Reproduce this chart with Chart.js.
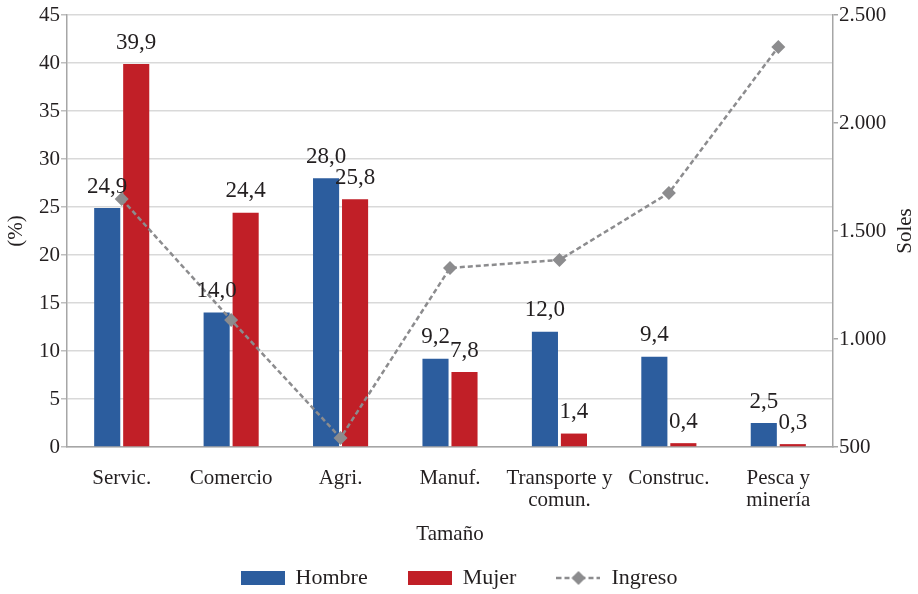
<!DOCTYPE html>
<html>
<head>
<meta charset="utf-8">
<script src="https://cdn.jsdelivr.net/npm/chart.js@4.4.1/dist/chart.umd.min.js"></script>
<style>
  html, body { margin: 0; padding: 0; background: #fff; }
  #wrap { width: 918px; height: 594px; }
</style>
</head>
<body>
<div id="wrap"><canvas id="chart"></canvas></div>
<script>
// ---------------- data
const categories = ['Servic.', 'Comercio', 'Agri.', 'Manuf.', ['Transporte y', 'comun.'], 'Construc.', ['Pesca y', 'minería']]
const hombre = [24.9, 14.0, 28.0, 9.2, 12.0, 9.4, 2.5]
const mujer = [39.9, 24.4, 25.8, 7.8, 1.4, 0.4, 0.3]
const ingreso = [1648, 1088, 542, 1329, 1366, 1676, 2352]
const leftTicks = [0, 5, 10, 15, 20, 25, 30, 35, 40, 45]
const rightTicks = [500, 1000, 1500, 2000, 2500]

const BLUE = '#2c5d9e'
const RED = '#c11f27'
const GRAY = '#8c8c8e'
const TEXT = '#231f20'
const FONT = "'Liberation Serif', 'Times New Roman', serif"

// legend swatches (drawn as small canvases)
function swatch(color) {
  const c = document.createElement('canvas')
  c.width = 44; c.height = 14
  const g = c.getContext('2d')
  g.fillStyle = color
  g.fillRect(0, 0, 44, 14)
  return c
}
function lineSwatch() {
  const c = document.createElement('canvas')
  c.width = 44; c.height = 14
  const g = c.getContext('2d')
  g.strokeStyle = GRAY
  g.lineWidth = 2.5
  g.setLineDash([5, 3])
  g.beginPath(); g.moveTo(0, 7); g.lineTo(44, 7); g.stroke()
  g.fillStyle = GRAY
  g.beginPath(); g.moveTo(22, 0); g.lineTo(29, 7); g.lineTo(22, 14); g.lineTo(15, 7); g.closePath(); g.fill()
  return c
}

function fmtComma(v) { return v.toFixed(1).replace('.', ',') }
function fmtThousands(v) { return String(v).replace(/\B(?=(\d{3})+(?!\d))/g, '.') }

// value labels above the bars + axis titles drawn by hand
const extras = {
  id: 'extras',
  afterDatasetsDraw(chart) {
    const ctx = chart.ctx
    ctx.save()
    ctx.fillStyle = TEXT
    ctx.font = '23px ' + FONT
    ctx.textAlign = 'center'
    ctx.textBaseline = 'bottom'
    chart.data.datasets.forEach((ds, di) => {
      if (ds.type !== 'bar') return
      chart.getDatasetMeta(di).data.forEach((bar, i) => {
        ctx.fillText(fmtComma(ds.data[i]), bar.x, bar.y - 10)
      })
    })
    ctx.restore()
  },
  afterDraw(chart) {
    const ctx = chart.ctx
    const area = chart.chartArea
    ctx.save()
    ctx.fillStyle = TEXT
    ctx.font = '21px ' + FONT
    ctx.textAlign = 'center'
    ctx.textBaseline = 'middle'
    ctx.fillText('Tamaño', (area.left + area.right) / 2, 534)
    ctx.translate(905, (area.top + area.bottom) / 2)
    ctx.rotate(-Math.PI / 2)
    ctx.fillText('Soles', 0, 0)
    ctx.restore()
  }
}

const ctx = document.getElementById('chart').getContext('2d')
const chart = new Chart(ctx, {
  data: {
    labels: categories,
    datasets: [
      {
        type: 'line',
        label: 'Ingreso',
        data: ingreso,
        yAxisID: 'y1',
        borderColor: GRAY,
        backgroundColor: GRAY,
        borderWidth: 2.5,
        borderDash: [5, 3],
        pointStyle: 'rectRot',
        pointRadius: 7,
        pointHoverRadius: 7,
        pointBorderWidth: 0,
        tension: 0,
        order: 0
      },
      {
        type: 'bar',
        label: 'Hombre',
        data: hombre,
        yAxisID: 'y',
        backgroundColor: BLUE,
        categoryPercentage: 0.53,
        barPercentage: 0.9,
        order: 1
      },
      {
        type: 'bar',
        label: 'Mujer',
        data: mujer,
        yAxisID: 'y',
        backgroundColor: RED,
        categoryPercentage: 0.53,
        barPercentage: 0.9,
        order: 1
      }
    ]
  },
  options: {
    responsive: true,
    maintainAspectRatio: false,
    animation: false,
    layout: { padding: { top: 15, left: 0, right: 0, bottom: 0 } },
    plugins: {
      tooltip: { enabled: false },
      legend: {
        position: 'bottom',
        maxHeight: 67,
        labels: {
          font: { family: FONT, size: 22, lineHeight: 1.0 },
          color: TEXT,
          usePointStyle: true,
          pointStyleWidth: 44,
          boxHeight: 14,
          padding: 40,
          sort: (a, b) => (a.text === 'Ingreso') - (b.text === 'Ingreso'),
          generateLabels(chart) {
            return chart.data.datasets.map((ds, i) => ({
              text: ds.label,
              datasetIndex: i,
              fontColor: TEXT,
              pointStyle: ds.type === 'line' ? lineSwatch() : swatch(ds.backgroundColor),
              hidden: false,
              lineWidth: 0
            }))
          }
        }
      }
    },
    scales: {
      x: {
        afterFit(scale) { scale.height = 80 },
        grid: { display: false },
        border: { display: true, color: '#a6a6a6', width: 1.5 },
        ticks: {
          font: { family: FONT, size: 21, lineHeight: 1.05 },
          color: TEXT,
          padding: 12,
          maxRotation: 0,
          autoSkip: false
        }
      },
      y: {
        position: 'left',
        min: 0,
        max: 45,
        afterBuildTicks(scale) { scale.ticks = leftTicks.map(v => ({ value: v })) },
        afterFit(scale) { scale.width = 67 },
        grid: { color: '#d9d9d9', lineWidth: 1.5, tickLength: 6, drawTicks: true, tickColor: '#bfbfbf' },
        border: { display: true, color: '#a6a6a6', width: 1.5 },
        ticks: {
          font: { family: FONT, size: 21 },
          color: TEXT,
          padding: 1
        },
        title: {
          display: true,
          text: '(%)',
          font: { family: FONT, size: 21 },
          color: TEXT,
          padding: { top: 4, bottom: 0 }
        }
      },
      y1: {
        position: 'right',
        min: 500,
        max: 2500,
        afterBuildTicks(scale) { scale.ticks = rightTicks.map(v => ({ value: v })) },
        afterFit(scale) { scale.width = 85 },
        grid: { drawOnChartArea: false, tickLength: 5, color: '#a6a6a6', lineWidth: 1.5 },
        border: { display: true, color: '#a6a6a6', width: 1.5 },
        ticks: {
          font: { family: FONT, size: 21 },
          color: TEXT,
          padding: 1,
          callback: v => fmtThousands(v)
        }
      }
    }
  },
  plugins: [extras]
})
</script>
</body>
</html>
